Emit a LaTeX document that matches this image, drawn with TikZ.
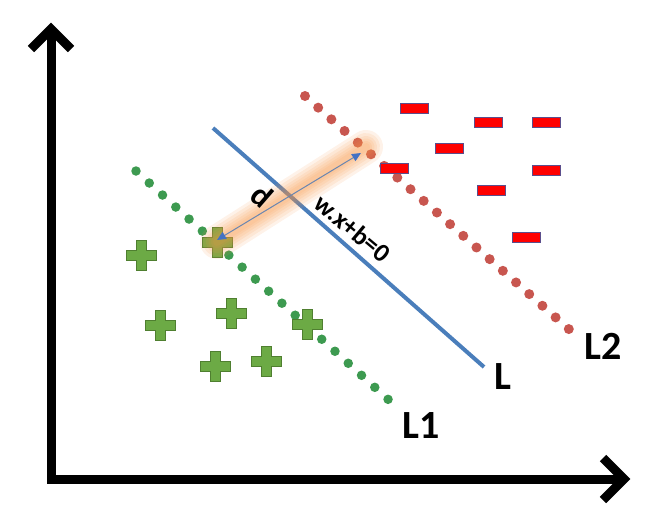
\documentclass[tikz,border=0pt]{standalone}
\usepackage{fontspec}
\setmainfont{Carlito}
\usetikzlibrary{arrows.meta}
\definecolor{lblue}{HTML}{4A7EBB}
\definecolor{dgreen}{HTML}{3D9A50}
\definecolor{dred}{HTML}{C8564F}
\definecolor{pfill}{HTML}{6CAA45}
\definecolor{pedge}{HTML}{4F7F30}
\definecolor{medge}{HTML}{5B4E8C}
\definecolor{glow}{HTML}{F79646}
\definecolor{dline}{HTML}{6A86B0}
\definecolor{dtip}{HTML}{4472C4}
\tikzset{
  axisline/.style={line width=9pt, line join=miter, black},
  greendots/.style={dgreen, line width=9.5pt, line cap=round, dash pattern=on 0pt off 17.9pt},
  reddots/.style={dred, line width=10pt, line cap=round, dash pattern=on 0pt off 17.6pt},
  sepline/.style={lblue, line width=4pt},
  minusbox/.style={draw=medge, fill=red, line width=0.8pt, minimum width=28pt, minimum height=10pt, inner sep=0pt},
  lbl/.style={font=\bfseries\fontsize{40}{40}\selectfont, inner sep=0pt},
  pics/plusmark/.style={code={
    \draw[fill=pfill, draw=pedge, line width=0.8pt]
      (-5,-15) -- (5,-15) -- (5,-5) -- (15,-5) -- (15,5) -- (5,5) -- (5,15)
      -- (-5,15) -- (-5,5) -- (-15,5) -- (-15,-5) -- (-5,-5) -- cycle;
  }}
}
\begin{document}
\begin{tikzpicture}[x=1pt,y=-1pt]
\useasboundingbox (0,0) rectangle (665,517);
% axes
\coordinate (ytop) at (51,29);
\coordinate (origin) at (51,479);
\coordinate (xend) at (624,479);
\draw[axisline] (ytop) -- (origin) -- (xend);
\draw[axisline] (31,49) -- (ytop) -- (71,49);
\draw[axisline] (603,458) -- (xend) -- (603,500);
% dotted margin lines
\coordinate (l1a) at (136,171);
\coordinate (l1b) at (391,402);
\coordinate (l2a) at (305,96);
\coordinate (l2b) at (571,331);
\draw[greendots] (l1a) -- (l1b);
\draw[reddots] (l2a) -- (l2b);
% separating line
\coordinate (la) at (213,128);
\coordinate (lb) at (484,367);
\draw[sepline] (la) -- (lb);
% plus samples
\pic at (141,255) {plusmark};
\pic at (217,242) {plusmark};
\pic at (160,325) {plusmark};
\pic at (231,313) {plusmark};
\pic at (307,324) {plusmark};
\pic at (215,366) {plusmark};
\pic at (266,361) {plusmark};
% minus samples
\node[minusbox] (m1) at (414,108) {};
\node[minusbox] (m2) at (488,122) {};
\node[minusbox] (m3) at (546,122) {};
\node[minusbox] (m4) at (449,148) {};
\node[minusbox] (m5) at (394,168) {};
\node[minusbox] (m6) at (546,170) {};
\node[minusbox] (m7) at (491,190) {};
\node[minusbox] (m8) at (526,237) {};
% glow
\coordinate (ga) at (217,242);
\coordinate (gb) at (366,147);
\foreach \w in {34,28,22,17,12,8}
  \draw[glow, opacity=0.12, line width=\w pt, line cap=round] (ga) -- (gb);
% distance arrow
\coordinate (da) at (217,240);
\coordinate (db) at (361,153);
\draw[dline, line width=1pt, {Triangle[length=9pt,width=8pt,fill=dtip,color=dtip]}-{Triangle[length=9pt,width=8pt,fill=dtip,color=dtip]}] (da) -- (db);
% labels
\node[font=\bfseries\fontsize{32}{32}\selectfont, rotate=-41, inner sep=0pt] (dlbl) at (262,196) {d};
\node[font=\bfseries\fontsize{26}{26}\selectfont, rotate=-40, inner sep=0pt] (eq) at (353,228) {w.x+b=0};
\node[lbl] (lL) at (503,377) {L};
\node[lbl] (lL1) at (421,426) {L1};
\node[lbl] (lL2) at (603,346) {L2};
\end{tikzpicture}
\end{document}
